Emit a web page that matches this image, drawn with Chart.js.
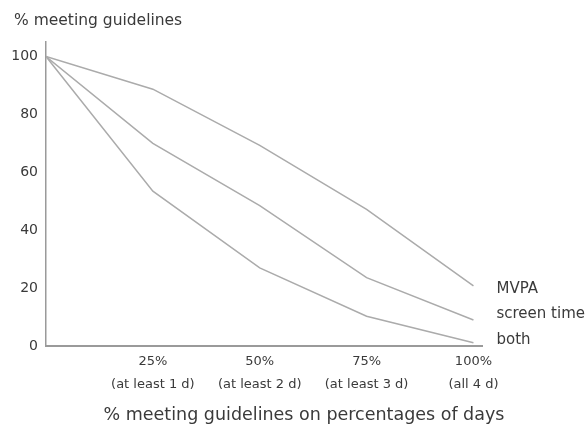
<!DOCTYPE html>
<html>
<head>
<meta charset="utf-8">
<script src="https://cdn.jsdelivr.net/npm/chart.js@4"></script>
<style>
  body { margin: 0; background: #fff; }
</style>
</head>
<body>
<canvas id="chart" width="587" height="426"></canvas>
<script>
// share of days on which guidelines are met (x axis)
const dayShares = [0, 25, 50, 75, 100];
const xTickLabels = ["25%", "50%", "75%", "100%"];
const xTickNotes = ["(at least 1 d)", "(at least 2 d)", "(at least 3 d)", "(all 4 d)"];
const yTicks = [0, 20, 40, 60, 80, 100];

// % meeting guidelines
const mvpa = [100, 88.7, 69.3, 47.2, 20.8];
const screenTime = [100, 70.0, 48.5, 23.6, 9.0];
const both = [100, 53.5, 27.0, 10.3, 1.1];
const seriesNames = ["MVPA", "screen time", "both"];

const textColor = "#3a3a3a";
const lineColor = "#ababab";
const fontFamily = "'DejaVu Sans', sans-serif";

function points(values) {
    return values.map((v, i) => ({ x: dayShares[i], y: v }));
}

// titles and end labels drawn on top
const extraText = {
    id: "extraText",
    afterDraw(chart) {
        const ctx = chart.ctx;
        const y = chart.scales.y;
        ctx.save();
        ctx.fillStyle = textColor;
        ctx.textBaseline = "middle";

        ctx.font = "15.5px " + fontFamily;
        ctx.textAlign = "left";
        ctx.fillText("% meeting guidelines", 14, 21);

        ctx.font = "17.5px " + fontFamily;
        ctx.textAlign = "center";
        ctx.fillText("% meeting guidelines on percentages of days", 304, 415);

        // series names to the right of the line ends
        ctx.font = "15px " + fontFamily;
        const ends = chart.data.datasets.map(ds => y.getPixelForValue(ds.data[ds.data.length - 1].y));
        const mean = ends.reduce((a, b) => a + b, 0) / ends.length;
        const lastX = chart.scales.x.getPixelForValue(dayShares[dayShares.length - 1]);
        ctx.textAlign = "left";
        seriesNames.forEach((name, i) => {
            ctx.fillText(name, lastX + 23, mean - 2 + (i - 1) * 25.5);
        });
        ctx.restore();
    }
};

new Chart(document.getElementById("chart"), {
    type: "line",
    data: {
        datasets: [
            { label: seriesNames[0], data: points(mvpa) },
            { label: seriesNames[1], data: points(screenTime) },
            { label: seriesNames[2], data: points(both) }
        ].map(ds => Object.assign(ds, {
            borderColor: lineColor,
            borderWidth: 1.5,
            pointRadius: 0,
            tension: 0,
            fill: false
        }))
    },
    options: {
        responsive: false,
        animation: false,
        layout: { padding: { left: 0, top: 42, right: 105, bottom: 0 } },
        plugins: {
            legend: { display: false },
            tooltip: { enabled: false }
        },
        scales: {
            x: {
                type: "linear",
                min: 0,
                max: 102,
                afterBuildTicks: scale => {
                    scale.ticks = dayShares.slice(1).map(v => ({ value: v }));
                },
                afterFit: scale => { scale.height = 80; },
                grid: { display: false, drawTicks: false },
                border: { display: true, color: "#9a9a9a", width: 2 },
                ticks: {
                    padding: 4,
                    color: textColor,
                    font: { family: fontFamily, size: 13, lineHeight: 1.75 },
                    maxRotation: 0,
                    autoSkip: false,
                    callback: (v) => {
                        const i = dayShares.indexOf(v) - 1;
                        return i >= 0 ? [xTickLabels[i], xTickNotes[i]] : "";
                    }
                }
            },
            y: {
                min: 0,
                max: 105,
                afterBuildTicks: scale => {
                    scale.ticks = yTicks.map(v => ({ value: v }));
                },
                afterFit: scale => { scale.width = 46; },
                grid: { display: false, drawTicks: false },
                border: { display: true, color: "#9a9a9a", width: 1.5 },
                ticks: {
                    padding: 8,
                    color: textColor,
                    font: { family: fontFamily, size: 14 }
                }
            }
        }
    },
    plugins: [extraText]
});
</script>
</body>
</html>
